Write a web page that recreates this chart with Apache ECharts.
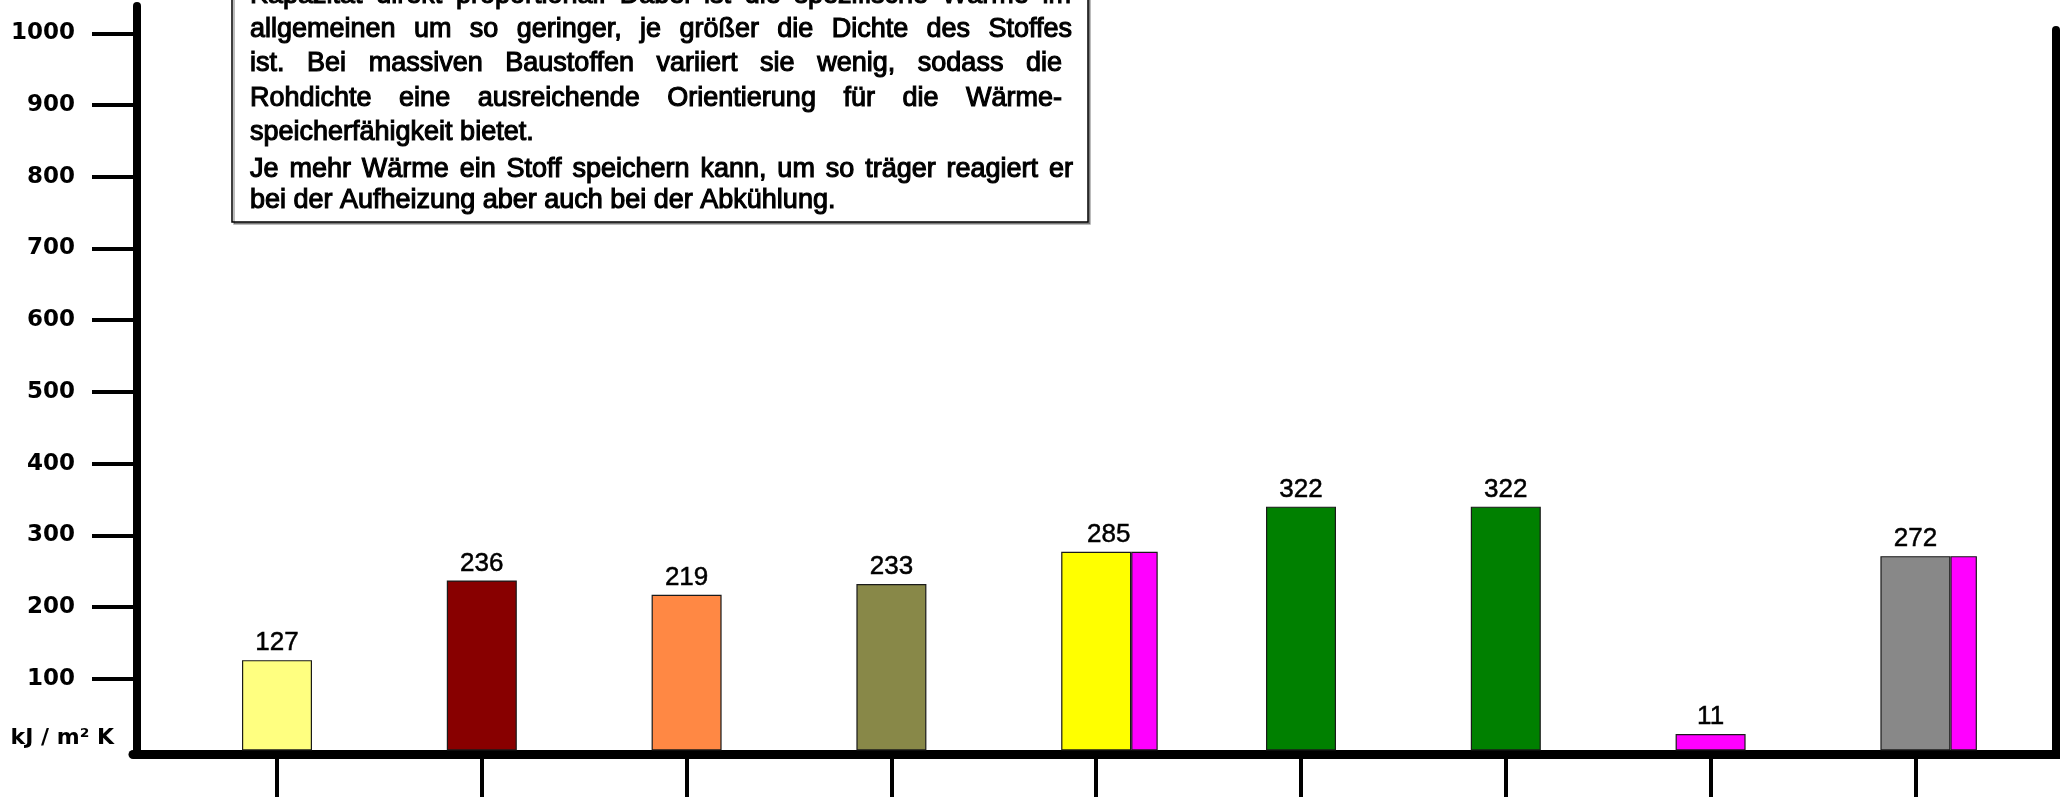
<!DOCTYPE html>
<html>
<head>
<meta charset="utf-8">
<script src="https://cdn.jsdelivr.net/npm/echarts@6/dist/echarts.min.js"></script>
<style>
html,body{margin:0;padding:0;background:#ffffff;}
#c{width:2060px;height:799px;}
</style>
</head>
<body>
<div id="c"></div>
<script>
// ---- data ----
const categories = ['1', '2', '3', '4', '5', '6', '7', '8', '9'];
const valueLabels = [127, 236, 219, 233, 285, 322, 322, 11, 272];
const barHeights = [126, 237, 217, 232, 277, 340, 340, 23, 271];
const extraHeights = [null, null, null, null, 277, null, null, null, 271];
const barColors = ['#FFFF80', '#880000', '#FF8844', '#888848', '#FFFF00', '#008000', '#008000', '#FF00FF', '#888888'];
const extraColor = '#FF00FF';
const yTicks = [100, 200, 300, 400, 500, 600, 700, 800, 900, 1000];
const unitLabel = 'kJ / m² K';
const noteLines = [
  'Kapazität direkt proportional. Dabei ist die spezifische Wärme im',
  'allgemeinen um so geringer, je größer die Dichte des Stoffes',
  'ist. Bei massiven Baustoffen variiert sie wenig, sodass die',
  'Rohdichte eine ausreichende Orientierung für die Wärme-',
  'speicherfähigkeit bietet.',
  'Je mehr Wärme ein Stoff speichern kann, um so träger reagiert er',
  'bei der Aufheizung aber auch bei der Abkühlung.'
];

// ---- layout / style ----
const noteFont = '27px "Liberation Sans", Arial, sans-serif';
const noteX = 250;
const noteY = [-4, 30, 64, 99, 133, 170, 201];
const noteRight = [1071, 1072, 1062, 1062, null, 1073, null];

const mctx = document.createElement('canvas').getContext('2d');
mctx.font = noteFont;
function textEl(text, x, y) {
  return {type: 'text', x: x, y: y, z: 11,
    style: {text: text, font: noteFont, fill: '#000', stroke: '#000', lineWidth: 1.1,
            align: 'left', verticalAlign: 'middle', textAlign: 'left', textVerticalAlign: 'middle'}};
}
function lineElements(text, y, right) {
  const words = text.split(' ');
  const widths = words.map(w => mctx.measureText(w).width);
  const natural = mctx.measureText(text).width;
  if (!right || words.length < 2 || noteX + natural >= right) {
    return [textEl(text, noteX, y)];
  }
  const total = widths.reduce((a, b) => a + b, 0);
  const gap = (right - noteX - total) / (words.length - 1);
  const els = [];
  let x = noteX;
  words.forEach((w, i) => { els.push(textEl(w, x, y)); x += widths[i] + gap; });
  return els;
}

const graphics = [{
  type: 'rect', z: 10,
  shape: {x: 232, y: -10, width: 856, height: 232},
  style: {fill: '#ffffff', stroke: '#000', lineWidth: 1.5,
          shadowColor: 'rgba(0,0,0,0.35)', shadowOffsetX: 2, shadowOffsetY: 2, shadowBlur: 0}
}];
noteLines.forEach((t, i) => { lineElements(t, noteY[i], noteRight[i]).forEach(e => graphics.push(e)); });
graphics.push({type: 'text', x: 114, y: 738, z: 11,
  style: {text: unitLabel, font: 'bold 22px "DejaVu Sans", sans-serif', fill: '#000',
          align: 'right', verticalAlign: 'middle', textAlign: 'right', textVerticalAlign: 'middle'}});

const labelShift = {4: [12.5, 0]};
const mainData = barHeights.map((v, i) => {
  const d = {value: v, itemStyle: {color: barColors[i]}};
  if (labelShift[i]) d.label = {offset: labelShift[i]};
  return d;
});

const chart = echarts.init(document.getElementById('c'), null, {renderer: 'canvas'});
chart.setOption({
  animation: false,
  backgroundColor: '#ffffff',
  grid: [
    {left: 174.6, right: 42.2, top: 6, bottom: 48.5},
    {left: 133, right: 0, top: 30, bottom: 48.5}
  ],
  xAxis: [
    {type: 'category', gridIndex: 0, data: categories, boundaryGap: true,
     axisLine: {show: false},
     axisTick: {show: true, alignWithLabel: true, interval: 0, length: 46.5, lineStyle: {color: '#000', width: 4}},
     axisLabel: {show: false}, splitLine: {show: false}},
    {type: 'value', gridIndex: 1, min: 0, max: 1, offset: 4,
     axisLine: {show: true, onZero: false, lineStyle: {color: '#000', width: 9}},
     axisTick: {show: false}, axisLabel: {show: false}, splitLine: {show: false}}
  ],
  yAxis: [
    {type: 'value', gridIndex: 0, min: 0, max: 1038, offset: 37.6,
     axisLine: {show: true, onZero: false, lineStyle: {color: '#000', width: 8}},
     axisTick: {show: true, customValues: yTicks, length: 45, lineStyle: {color: '#000', width: 4}},
     axisLabel: {show: true, customValues: yTicks, margin: 62, formatter: v => String(v),
                 fontFamily: '"DejaVu Sans", sans-serif', fontWeight: 'bold', fontSize: 23, color: '#000'},
     splitLine: {show: false}},
    {type: 'value', gridIndex: 1, position: 'right', offset: -4, min: 0, max: 1,
     axisLine: {show: true, onZero: false, lineStyle: {color: '#000', width: 8}},
     axisTick: {show: false}, axisLabel: {show: false}, splitLine: {show: false}}
  ],
  series: [
    {type: 'bar', name: 'spacer', xAxisIndex: 0, yAxisIndex: 0, data: categories.map(() => null),
     barWidth: 26.5, barGap: '0%', silent: true, itemStyle: {color: 'rgba(0,0,0,0)'}},
    {type: 'bar', name: 'main', xAxisIndex: 0, yAxisIndex: 0, data: mainData,
     barWidth: 70, barGap: '0%',
     itemStyle: {borderColor: '#1a1a1a', borderWidth: 1.2},
     label: {show: true, position: 'top', distance: 4,
             formatter: p => String(valueLabels[p.dataIndex]),
             fontFamily: '"Liberation Sans", Arial, sans-serif', fontSize: 26, color: '#000',
             textBorderColor: '#000', textBorderWidth: 0.5}},
    {type: 'bar', name: 'extra', xAxisIndex: 0, yAxisIndex: 0, data: extraHeights,
     barWidth: 26.5, barGap: '0%',
     itemStyle: {color: extraColor, borderColor: '#1a1a1a', borderWidth: 1.2}}
  ],
  graphic: graphics
});
</script>
</body>
</html>
